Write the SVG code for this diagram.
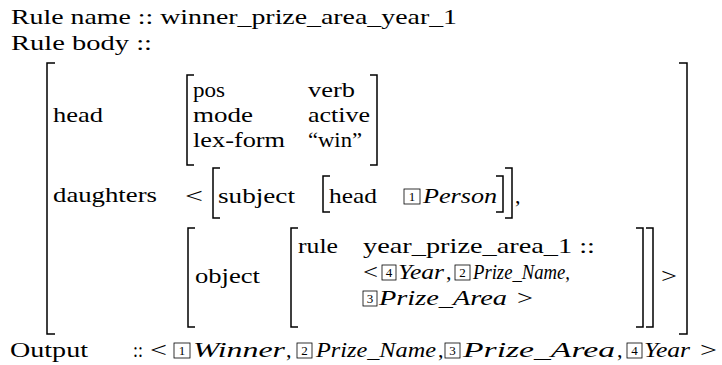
<svg xmlns="http://www.w3.org/2000/svg" width="722" height="365" viewBox="0 0 722 365">
<style>
.t{font-size:22px;fill:#000}
.i{font-style:italic}
.n{font-size:13px;fill:#000;text-anchor:middle}
.b{fill:none;stroke:#000;stroke-width:1.5}
.bx{fill:none;stroke:#000;stroke-width:0.8}
</style>
<rect width="722" height="365" fill="#fff"/>
<g font-family="Liberation Serif, DejaVu Serif, serif">
<g id="title">
<text class="t" x="11" y="24" textLength="446" lengthAdjust="spacingAndGlyphs">Rule name :: winner_prize_area_year_1</text>
<text class="t" x="11" y="50" textLength="141" lengthAdjust="spacingAndGlyphs">Rule body ::</text>
</g>
<g id="outer">
<path class="b" d="M55,63 H47 V334 H55"/>
<path class="b" d="M679,63 H687 V334 H679"/>
</g>
<g id="head">
<text class="t" x="53" y="122" textLength="50" lengthAdjust="spacingAndGlyphs">head</text>
<path class="b" d="M194,75 H187 V165 H194"/>
<path class="b" d="M370,75 H377 V165 H370"/>
<text class="t" x="193" y="97" textLength="32" lengthAdjust="spacingAndGlyphs">pos</text>
<text class="t" x="308" y="97" textLength="47" lengthAdjust="spacingAndGlyphs">verb</text>
<text class="t" x="193" y="122" textLength="60" lengthAdjust="spacingAndGlyphs">mode</text>
<text class="t" x="308" y="122" textLength="62" lengthAdjust="spacingAndGlyphs">active</text>
<text class="t" x="193" y="147" textLength="92" lengthAdjust="spacingAndGlyphs">lex-form</text>
<text class="t" x="308" y="147" textLength="54" lengthAdjust="spacingAndGlyphs">“win”</text>
</g>
<g id="daughters">
<text class="t" x="53" y="202" textLength="104" lengthAdjust="spacingAndGlyphs">daughters</text>
<text class="t" x="185" y="203" textLength="18" lengthAdjust="spacingAndGlyphs">&lt;</text>
</g>
<g id="subject">
<path class="b" d="M220,168 H213 V218 H220"/>
<path class="b" d="M505,168 H512 V218 H505"/>
<text class="t" x="218" y="203" textLength="77" lengthAdjust="spacingAndGlyphs">subject</text>
<path class="b" d="M330,176 H323 V212 H330"/>
<path class="b" d="M496,176 H503 V212 H496"/>
<text class="t" x="329" y="203" textLength="48" lengthAdjust="spacingAndGlyphs">head</text>
<rect class="bx" x="404" y="189" width="16" height="15"/>
<text class="n" x="412" y="201">1</text>
<text class="t i" x="423" y="203" textLength="74" lengthAdjust="spacingAndGlyphs">Person</text>
<text class="t" x="515" y="203">,</text>
</g>
<g id="object">
<path class="b" d="M195,228 H188 V327 H195"/>
<path class="b" d="M646,228 H653 V327 H646"/>
<text class="t" x="195" y="283" textLength="65" lengthAdjust="spacingAndGlyphs">object</text>
<path class="b" d="M298,228 H291 V327 H298"/>
<path class="b" d="M636,228 H643 V327 H636"/>
<text class="t" x="298" y="253" textLength="40" lengthAdjust="spacingAndGlyphs">rule</text>
<text class="t" x="363" y="253" textLength="232" lengthAdjust="spacingAndGlyphs">year_prize_area_1 ::</text>
<text class="t" x="363" y="279" textLength="15" lengthAdjust="spacingAndGlyphs">&lt;</text>
<rect class="bx" x="382" y="265" width="14" height="15"/>
<text class="n" x="389" y="277">4</text>
<text class="t i" x="398" y="279" textLength="46" lengthAdjust="spacingAndGlyphs">Year</text>
<text class="t" x="446" y="279">,</text>
<rect class="bx" x="455" y="265" width="15" height="15"/>
<text class="n" x="462.5" y="277">2</text>
<text class="t i" x="473" y="279" textLength="97" lengthAdjust="spacingAndGlyphs">Prize_Name,</text>
<rect class="bx" x="363" y="291" width="14" height="15"/>
<text class="n" x="370" y="303">3</text>
<text class="t i" x="379" y="305" textLength="128" lengthAdjust="spacingAndGlyphs">Prize_Area</text>
<text class="t" x="517" y="305" textLength="16" lengthAdjust="spacingAndGlyphs">&gt;</text>
<text class="t" x="661" y="283" textLength="16" lengthAdjust="spacingAndGlyphs">&gt;</text>
</g>
<g id="output">
<text class="t" x="10" y="357" textLength="78" lengthAdjust="spacingAndGlyphs">Output</text>
<text class="t" x="133" y="357" textLength="10" lengthAdjust="spacingAndGlyphs">::</text>
<text class="t" x="150" y="357" textLength="17" lengthAdjust="spacingAndGlyphs">&lt;</text>
<rect class="bx" x="174" y="343" width="16" height="15"/>
<text class="n" x="182" y="355">1</text>
<text class="t i" x="193" y="357" textLength="92" lengthAdjust="spacingAndGlyphs">Winner</text>
<text class="t" x="286" y="357">,</text>
<rect class="bx" x="297" y="343" width="15" height="15"/>
<text class="n" x="304.5" y="355">2</text>
<text class="t i" x="316" y="357" textLength="120" lengthAdjust="spacingAndGlyphs">Prize_Name</text>
<text class="t" x="438" y="357">,</text>
<rect class="bx" x="445" y="343" width="15" height="15"/>
<text class="n" x="452.5" y="355">3</text>
<text class="t i" x="463" y="357" textLength="152" lengthAdjust="spacingAndGlyphs">Prize_Area</text>
<text class="t" x="617" y="357">,</text>
<rect class="bx" x="627" y="343" width="15" height="15"/>
<text class="n" x="634.5" y="355">4</text>
<text class="t i" x="644" y="357" textLength="46" lengthAdjust="spacingAndGlyphs">Year</text>
<text class="t" x="700" y="357" textLength="17" lengthAdjust="spacingAndGlyphs">&gt;</text>
</g>
</g>
</svg>
